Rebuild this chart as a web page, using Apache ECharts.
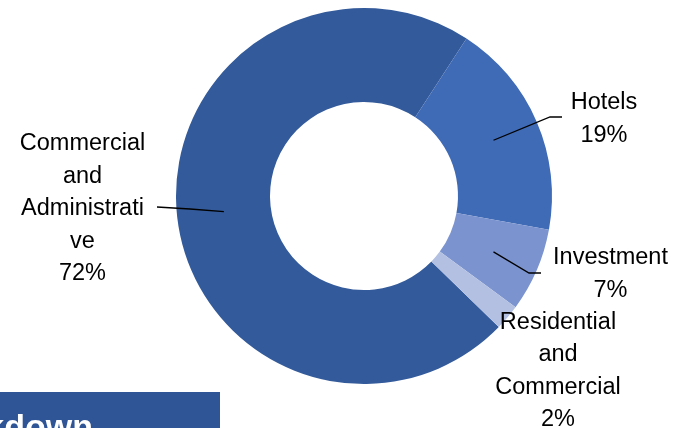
<!DOCTYPE html>
<html><head><meta charset="utf-8">
<script src="https://cdn.jsdelivr.net/npm/echarts@6/dist/echarts.min.js"></script>
<style>html,body{margin:0;padding:0;background:#fff}#c{width:676px;height:428px}</style>
</head><body><div id="c"></div>
<script>
// ---- data ----
const categories = ["Commercial and Administrative", "Hotels", "Investment", "Residential and Commercial"];
const labelText = ["Commercial\nand\nAdministrati\nve", "Hotels", "Investment", "Residential\nand\nCommercial"];
const shares = [71.9, 18.7, 7.2, 2.2];
const titleText = "Breakdown";

// ---- style ----
const colors = ["#335A9A", "#3F6AB6", "#7B94D0", "#B3C0E2"];
const FONT = "Liberation Sans";
const labelPlace = [
  { x: 82.5, y: 209, bend: [[190, 209], [157, 207]] },
  { x: 604, y: 119, bend: [[550, 117], [562, 117]] },
  { x: 610.5, y: 274, bend: [[529, 273], [541, 273]] },
  { x: 558, y: 371, bend: null }
];
const CENTER = [364, 196];
const START = 90 - 134.2;

const chart = echarts.init(document.getElementById('c'), null, { renderer: 'canvas' });

const mainData = categories.map((n, i) => ({ name: n, value: shares[i], itemStyle: { color: colors[i] } }));
const labelData = categories.map((n, i) => ({
  name: n, value: shares[i],
  labelLine: { show: !!labelPlace[i].bend }
}));

chart.setOption({
  animation: false,
  series: [
    {
      type: 'pie', center: CENTER, radius: [94, 188], startAngle: START,
      clockwise: true, avoidLabelOverlap: false, silent: true,
      label: { show: false }, labelLine: { show: false },
      itemStyle: { borderWidth: 0 },
      data: mainData
    },
    {
      type: 'pie', center: CENTER, radius: [0, 141], startAngle: START,
      clockwise: true, avoidLabelOverlap: false, silent: true, z: 5,
      itemStyle: { color: 'rgba(0,0,0,0)' },
      label: {
        show: true, position: 'outside', color: '#000', fontFamily: FONT, fontSize: 23.5,
        lineHeight: 32.5, align: 'center',
        formatter: p => labelText[p.dataIndex] + '\n' + Math.round(p.value) + '%'
      },
      labelLine: { show: true, length: 20, length2: 10, lineStyle: { color: '#000', width: 1.3 } },
      labelLayout: function (params) {
        const lp = labelPlace[params.dataIndex];
        const out = { x: lp.x, y: lp.y, align: 'center', verticalAlign: 'middle' };
        if (lp.bend && params.labelLinePoints) {
          out.labelLinePoints = [params.labelLinePoints[0]].concat(lp.bend);
        }
        return out;
      },
      data: labelData
    }
  ],
  graphic: [
    { type: 'rect', shape: { x: 0, y: 392, width: 220, height: 40 }, style: { fill: '#2F5597' }, silent: true },
    { type: 'text', style: { x: 93, y: 412, text: titleText, fill: '#fff', font: 'bold 34px "Liberation Sans"', textAlign: 'right', textVerticalAlign: 'top' }, silent: true }
  ]
});
</script>
</body></html>
